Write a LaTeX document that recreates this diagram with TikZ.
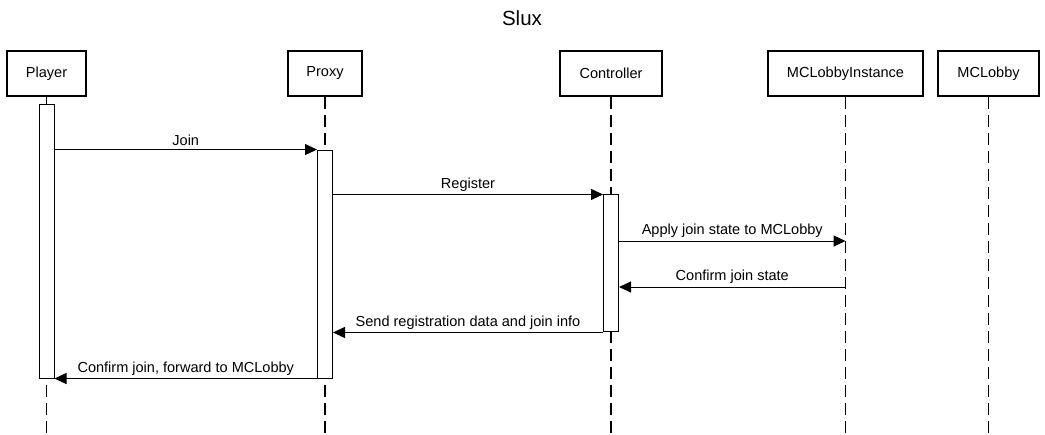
\documentclass[tikz,border=0pt]{standalone}
\usepackage{fontspec}
\setmainfont{Liberation Sans}
\usetikzlibrary{arrows.meta,positioning}

\begin{document}
\begin{tikzpicture}[x=0.75pt,y=-0.75pt,
  font=\fontsize{10.9pt}{13pt}\selectfont,
  actor/.style={draw,line width=1.5pt,minimum height=33.75pt,inner sep=0pt,minimum width=#1},
  lifeline/.style={line width=0.9pt,dash pattern=on 9pt off 4.5pt},
  act/.style={draw,fill=white,line width=0.75pt,minimum width=11.25pt,inner sep=0pt,minimum height=#1},
  msg/.style={line width=0.75pt,-{Triangle[length=9pt,width=8.25pt]}},
  lbl/.style={above,inner sep=2.2pt}]

  % Frame of the picture (in pixels of the sketch)
  \useasboundingbox (0,0) rectangle (1045,435);
  \def\boxY{73.5} % middle of the participant boxes
  \def\lineEnd{435} % lifelines run down to the bottom edge

  % Title
  \node[font=\fontsize{15.4pt}{18pt}\selectfont] (title) at (522,18) {Slux};

  % Participants
  \node[actor=59.25pt] (player) at (46.5,\boxY) {Player};
  \node[actor=55.5pt] (proxy) at (325,\boxY) {Proxy};
  \node[actor=76.5pt] (controller) at (611,\boxY) {Controller};
  \node[actor=116.25pt] (instance) at (845.5,\boxY) {MCLobbyInstance};
  \node[actor=75.75pt] (lobby) at (988.5,\boxY) {MCLobby};

  % Lifelines
  \foreach \p in {player,proxy,controller,instance,lobby}
    \draw[lifeline] (\p.south) -- (\p.south |- 0,\lineEnd);

  % Activation bars
  \node[act=205.5pt,below=4.9pt of player] (actPlayer) {};
  \node[act=171pt,below=39.4pt of proxy] (actProxy) {};
  \node[act=102.75pt,below=73.1pt of controller] (actController) {};

  % Points on the MCLobbyInstance lifeline
  \coordinate (apply) at (instance.south |- 0,241);
  \coordinate (confirm) at (instance.south |- 0,287);

  % Messages
  \draw[msg] (actPlayer.east |- actProxy.north) -- node[lbl] {Join} (actProxy.north west);
  \draw[msg] (actProxy.east |- actController.north) -- node[lbl] {Register} (actController.north west);
  \draw[msg] (actController.east |- apply) -- node[lbl] {Apply join state to MCLobby} (apply);
  \draw[msg] (confirm) -- node[lbl] {Confirm join state} (actController.east |- confirm);
  \draw[msg] (actController.south west) -- node[lbl] {Send registration data and join info} (actProxy.east |- actController.south);
  \draw[msg] (actProxy.south west) -- node[lbl] {Confirm join, forward to MCLobby} (actPlayer.south east);

\end{tikzpicture}
\end{document}
